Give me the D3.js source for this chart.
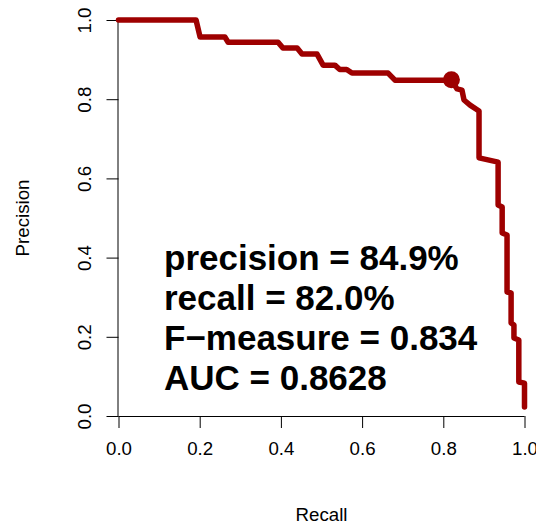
<!DOCTYPE html>
<html>
<head>
<meta charset="utf-8">
<script src="https://cdn.jsdelivr.net/npm/d3@7"></script>
<style>
  body { margin: 0; background: #fff; }
  text { font-family: "Liberation Sans", Arial, sans-serif; }
</style>
</head>
<body>
<div id="chart"></div>
<script>
// precision-recall curve
var recall = [0, 0.191, 0.201, 0.262, 0.270, 0.393, 0.405, 0.440, 0.452, 0.489, 0.504, 0.533,
  0.545, 0.562, 0.575, 0.664, 0.681, 0.820, 0.834, 0.846, 0.851, 0.866, 0.888, 0.888,
  0.935, 0.935, 0.945, 0.945, 0.957, 0.957, 0.967, 0.967, 0.974, 0.974, 0.986, 0.986, 1.0, 1.0];
var precision = [1.0, 1.0, 0.957, 0.957, 0.944, 0.944, 0.929, 0.929, 0.914, 0.914, 0.886, 0.886,
  0.875, 0.875, 0.866, 0.866, 0.848, 0.848, 0.826, 0.823, 0.798, 0.785, 0.770, 0.652,
  0.641, 0.533, 0.528, 0.462, 0.457, 0.313, 0.311, 0.235, 0.230, 0.197, 0.192, 0.086, 0.083, 0.023];
// chosen operating point
var bestPoint = [0.820, 0.849];
var ticks = [0, 0.2, 0.4, 0.6, 0.8, 1.0];
var labels = ["precision = 84.9%", "recall = 82.0%", "F\u2212measure = 0.834", "AUC = 0.8628"];

var width = 536, height = 524;
var margin = {top: 20, right: 11.5, bottom: 108, left: 118.5};

var svg = d3.select("#chart").append("svg").attr("width", width).attr("height", height);

var x = d3.scaleLinear().domain([0, 1]).range([margin.left, width - margin.right]);
var y = d3.scaleLinear().domain([0, 1]).range([height - margin.bottom, margin.top]);

// x axis
var xAxis = svg.append("g")
    .attr("transform", "translate(0," + y(0) + ")")
    .call(d3.axisBottom(x).tickValues(ticks).tickFormat(d3.format(".1f")).tickSize(12).tickSizeOuter(0));
xAxis.select(".domain").attr("d", "M" + x(0) + ",0.5H" + x(1));
xAxis.selectAll("text").style("font-size", "18.7px").attr("dy", "1.3em").attr("fill", "#000");

// y axis with rotated labels
var yAxis = svg.append("g")
    .attr("transform", "translate(" + x(0) + ",0)")
    .call(d3.axisLeft(y).tickValues(ticks).tickFormat(d3.format(".1f")).tickSize(12).tickSizeOuter(0));
yAxis.select(".domain").attr("d", "M-0.5," + y(0) + "V" + y(1));
yAxis.selectAll(".tick text")
    .style("font-size", "18.7px")
    .attr("fill", "#000")
    .attr("x", null).attr("dy", null)
    .attr("text-anchor", "middle")
    .attr("transform", "translate(-27.5,0) rotate(-90)");

// axis titles
svg.append("text")
    .attr("x", (x(0) + x(1)) / 2).attr("y", 521)
    .attr("text-anchor", "middle").style("font-size", "18.7px")
    .text("Recall");
svg.append("text")
    .attr("transform", "translate(29," + (y(0) + y(1)) / 2 + ") rotate(-90)")
    .attr("text-anchor", "middle").style("font-size", "18.7px")
    .text("Precision");

// the curve
var pts = recall.map(function(r, i) { return [r, precision[i]]; });
var line = d3.line().x(function(d) { return x(d[0]); }).y(function(d) { return y(d[1]); });
svg.append("path")
    .datum(pts)
    .attr("d", line)
    .attr("fill", "none")
    .attr("stroke", "#9e0000")
    .attr("stroke-width", 5.5)
    .attr("stroke-linejoin", "round")
    .attr("stroke-linecap", "round");

svg.append("circle")
    .attr("cx", x(bestPoint[0])).attr("cy", y(bestPoint[1]))
    .attr("r", 8.5).attr("fill", "#9e0000");

// summary text
svg.selectAll(".stat").data(labels).enter().append("text")
    .attr("class", "stat")
    .attr("x", 164)
    .attr("y", function(d, i) { return 269.5 + i * 40.2; })
    .style("font-size", "35px").style("font-weight", "bold")
    .text(function(d) { return d; });
</script>
</body>
</html>
